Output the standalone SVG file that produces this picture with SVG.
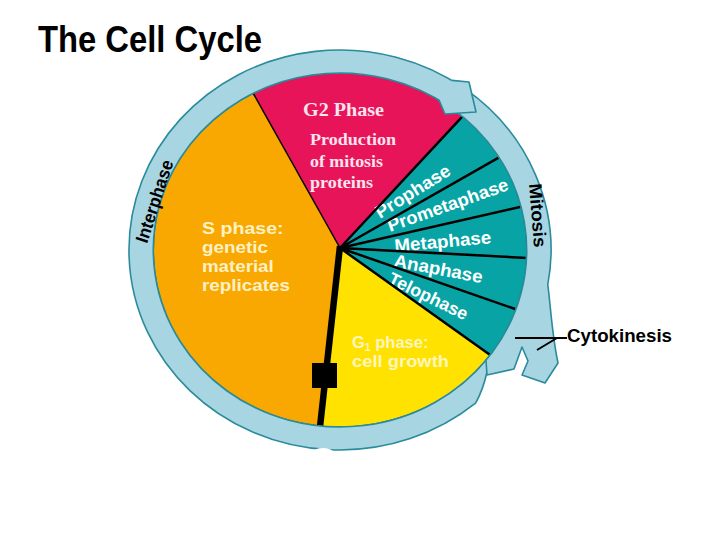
<svg xmlns="http://www.w3.org/2000/svg" width="728" height="546" viewBox="0 0 728 546">
<style>
.sans{font-family:"Liberation Sans",Arial,sans-serif;font-weight:bold}
.serif{font-family:"Liberation Serif","Times New Roman",serif;font-weight:bold}
.ring{fill:#A8D5E2;stroke:none}
.ringline{fill:none;stroke:#2A8B9C;stroke-width:1.6;stroke-linejoin:round}
.div{stroke:#000;stroke-width:2.5;fill:none}
.tl{fill:#FFFFFF;font-size:18px}
.sl{fill:#FFF1C6;font-size:16.5px}
.gl{fill:#FFF6BE;font-size:16.5px}
.pl{fill:#FCE4EE}
</style>
<rect width="728" height="546" fill="#FFFFFF"/>
<text class="sans" x="38" y="52" font-size="36" textLength="224" lengthAdjust="spacingAndGlyphs" fill="#000">The Cell Cycle</text>

<g id="s-phase">
<path d="M340,248 L320.1,426 A186.7,177 0 0 1 253.2,93.3 Z" fill="#F8A800"/>
<text class="sans sl" x="202" y="234" textLength="81.6" lengthAdjust="spacingAndGlyphs">S phase:</text>
<text class="sans sl" x="202" y="253" textLength="66" lengthAdjust="spacingAndGlyphs">genetic</text>
<text class="sans sl" x="202" y="272" textLength="71.7" lengthAdjust="spacingAndGlyphs">material</text>
<text class="sans sl" x="202" y="291" textLength="88" lengthAdjust="spacingAndGlyphs">replicates</text>
</g>
<g id="g2-phase">
<path d="M340,248 L253.2,93.3 A186.7,177 0 0 1 462.5,116.4 Z" fill="#E8145A"/>
<text class="serif pl" x="303" y="116" font-size="18.5" textLength="81" lengthAdjust="spacingAndGlyphs">G2 Phase</text>
<text class="serif pl" x="310" y="145" font-size="17" textLength="86" lengthAdjust="spacingAndGlyphs">Production</text>
<text class="serif pl" x="310" y="166.5" font-size="17" textLength="73" lengthAdjust="spacingAndGlyphs">of mitosis</text>
<text class="serif pl" x="310" y="188" font-size="17" textLength="63" lengthAdjust="spacingAndGlyphs">proteins</text>
</g>
<g id="mitosis-phases">
<path d="M340,248 L462.5,116.4 A186.7,177 0 0 1 490.2,355.1 Z" fill="#08A4A5"/>
<text class="sans tl" transform="translate(380,219) rotate(-32)" textLength="85" lengthAdjust="spacingAndGlyphs">Prophase</text>
<text class="sans tl" transform="translate(390,232) rotate(-19.5)" textLength="127" lengthAdjust="spacingAndGlyphs">Prometaphase</text>
<text class="sans tl" transform="translate(395,252) rotate(-5.2)" textLength="97" lengthAdjust="spacingAndGlyphs">Metaphase</text>
<text class="sans tl" transform="translate(393,266.5) rotate(10.6)" textLength="90" lengthAdjust="spacingAndGlyphs">Anaphase</text>
<text class="sans tl" transform="translate(387,283) rotate(25.8)" textLength="86" lengthAdjust="spacingAndGlyphs">Telophase</text>
</g>
<g id="g1-phase">
<path d="M340,248 L490.2,355.1 A186.7,177 0 0 1 320.1,426 Z" fill="#FFE200"/>
<text class="sans gl" x="352" y="348">G<tspan font-size="10.5" dy="2.5">1</tspan><tspan dy="-2.5"> phase:</tspan></text>
<text class="sans gl" x="352" y="367" textLength="97" lengthAdjust="spacingAndGlyphs">cell growth</text>
</g>
<g id="dividers">
<line x1="340" y1="248" x2="253.2" y2="93.3" stroke="#000" stroke-width="1.5"/>
<path class="div" d="M340,248 L462.5,116.4 M340,248 L499.1,157.4 M340,248 L521,206.8 M340,248 L526.5,258 M340,248 L515.9,309.3 M340,248 L490.2,355.1"/>
<line x1="340" y1="246" x2="320.1" y2="426" stroke="#000" stroke-width="6.5"/>
<rect x="312" y="363" width="25" height="25" fill="#000"/>
</g>
<ellipse cx="340" cy="250" rx="186.7" ry="177" fill="none" stroke="#2A7F74" stroke-width="1.4"/>

<g id="cycle-arrows">
<g id="interphase-arrow">
<path class="ring" d="M487,372 Q483,390 475.6,403.2 A211,200 0 1 1 464,88.2 L449.7,106.8 A186.7,177 0 1 0 487.1,359 Z"/>
<path class="ringline" d="M487,372 Q483,390 475.6,403.2 A211,200 0 1 1 464,88.2 M449.7,106.8 A186.7,177 0 1 0 487.1,359"/>
</g>
<g id="mitosis-arrow">
<path class="ring" d="M449.7,106.8 L464,88.2 A211,200 0 0 1 547.8,284.7 C551,310 552,335 558,363 L545,383 L522,375 L528,361 L522,347 L514,369 L487,375 L486,360 L492,352.8 A186.7,177 0 0 0 449.7,106.8 Z"/>
<path class="ringline" d="M449.7,106.8 L464,88.2 A211,200 0 0 1 547.8,284.7 C551,310 552,335 558,363 L545,383 L522,375 L528,361 L522,347 L514,369 L487,375 L486,360 L492,352.8 A186.7,177 0 0 0 449.7,106.8 Z"/>
</g>
<g id="interphase-head">
<path class="ring" d="M451.8,80.4 L469,82 L476,112 L445,114 L438.9,99.9 Z"/>
<path class="ringline" d="M451.8,80.4 L469,82 L476,112 L445,114 L438.9,99.9"/>
</g>
<ellipse cx="323" cy="452" rx="10" ry="4" fill="#FFFFFF"/>
<text class="sans" transform="translate(147,244) rotate(-72)" font-size="18" textLength="86" lengthAdjust="spacingAndGlyphs" fill="#000">Interphase</text>
<text class="sans" transform="translate(529,184) rotate(85.4)" font-size="18" textLength="64" lengthAdjust="spacingAndGlyphs" fill="#000">Mitosis</text>
</g>

<g id="cytokinesis">
<text class="sans" x="567" y="342" font-size="18" textLength="105" lengthAdjust="spacingAndGlyphs" fill="#000">Cytokinesis</text>
</g>
<g id="connectors">
<path d="M515,338 H567 M557,338 L537,350" fill="none" stroke="#000" stroke-width="2"/>
</g>
</svg>
